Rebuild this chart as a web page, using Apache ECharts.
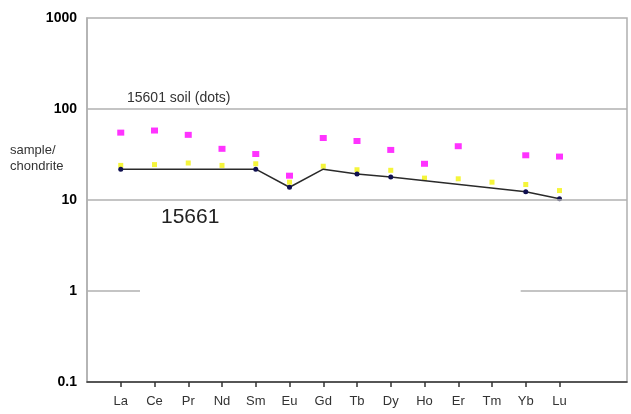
<!DOCTYPE html>
<html>
<head>
<meta charset="utf-8">
<script src="https://cdn.jsdelivr.net/npm/echarts@6/dist/echarts.min.js"></script>
<style>html,body{margin:0;padding:0;background:#fff}#c{width:631px;height:414px}</style>
</head>
<body>
<div id="c"></div>
<script>
const elements = ['La','Ce','Pr','Nd','Sm','Eu','Gd','Tb','Dy','Ho','Er','Tm','Yb','Lu'];
const soil15601 = [55, 58, 52, 36.5, 32, 18.5, 48, 44.5, 35.5, 25, 39, null, 31, 30];
const yellowSeries = [24, 24.5, 25.5, 24, 25, 15.7, 23.5, 21.5, 21.2, 17.4, 17.1, 15.7, 14.8, 12.7];
const sample15661 = [21.8, null, null, null, 21.8, 13.8, 21.8, 19.3, 17.9, null, null, null, 12.3, 10.3];
const hiddenMarker = ['Gd'];
const yTicks = [0.1, 1, 10, 100, 1000];

const pos = elements.map((e, i) => i + 1);
const toPts = arr => arr.map((v, i) => [pos[i], v]);

const chart = echarts.init(document.getElementById('c'));
const gridColor = '#b0b0b0';
chart.setOption({
  animation: false,
  grid: {left: 87, right: 4, top: 18, bottom: 32, show: true, borderColor: gridColor, borderWidth: 1.5},
  xAxis: {
    type: 'value', min: 0, max: elements.length + 2, interval: 1,
    splitLine: {show: false},
    axisLine: {lineStyle: {color: '#333', width: 1.5}},
    axisTick: {customValues: pos, length: 5, inside: false, lineStyle: {color: '#333', width: 1.5}},
    axisLabel: {customValues: pos, formatter: v => elements[v - 1] || '', color: '#333', fontFamily: 'Arial, Liberation Sans', fontSize: 13, margin: 13}
  },
  yAxis: {
    type: 'log', logBase: 10, min: 0.1, max: 1000,
    splitLine: {show: false},
    axisLine: {show: true, lineStyle: {color: gridColor, width: 1.5}},
    axisTick: {show: false},
    axisLabel: {color: '#000', fontWeight: 'bold', fontFamily: 'Arial, Liberation Sans', fontSize: 14, margin: 10,
      formatter: v => String(v)}
  },
  series: [
    {
      type: 'line', data: [], silent: true,
      markLine: {
        silent: true, symbol: 'none', label: {show: false},
        lineStyle: {color: gridColor, width: 1.5, type: 'solid'},
        data: [
          {yAxis: 100}, {yAxis: 10},
          [{coord: [0, 1]}, {coord: [1.57, 1]}],
          [{coord: [12.85, 1]}, {coord: [elements.length + 2, 1]}]
        ]
      }
    },
    {
      name: '15601 soil', type: 'scatter', symbol: 'rect', symbolSize: [7, 6],
      itemStyle: {color: '#ff00ff'}, data: toPts(soil15601).filter(p => p[1] != null)
    },
    {
      name: 'yellow', type: 'scatter', symbol: 'rect', symbolSize: [5, 5],
      itemStyle: {color: '#f2f20a'}, data: toPts(yellowSeries)
    },
    {
      name: '15661', type: 'line', connectNulls: true, symbol: 'circle',
      symbolSize: (v, p) => hiddenMarker.includes(elements[p.dataIndex]) ? 0 : 5,
      showAllSymbol: true,
      lineStyle: {color: '#2a2a2a', width: 1.5},
      itemStyle: {color: '#101050'},
      data: toPts(sample15661)
    }
  ],
  graphic: [
    {type: 'text', left: 10, top: 142, style: {text: 'sample/\nchondrite', font: '13px Arial, Liberation Sans', fill: '#333', lineHeight: 16}},
    {type: 'text', left: 127, top: 91, style: {text: '15601 soil (dots)', font: '14px Arial, Liberation Sans', fill: '#333'}},
    {type: 'text', left: 161, top: 207, style: {text: '15661', font: '21px Arial, Liberation Sans', fill: '#222'}}
  ]
});
</script>
</body>
</html>
